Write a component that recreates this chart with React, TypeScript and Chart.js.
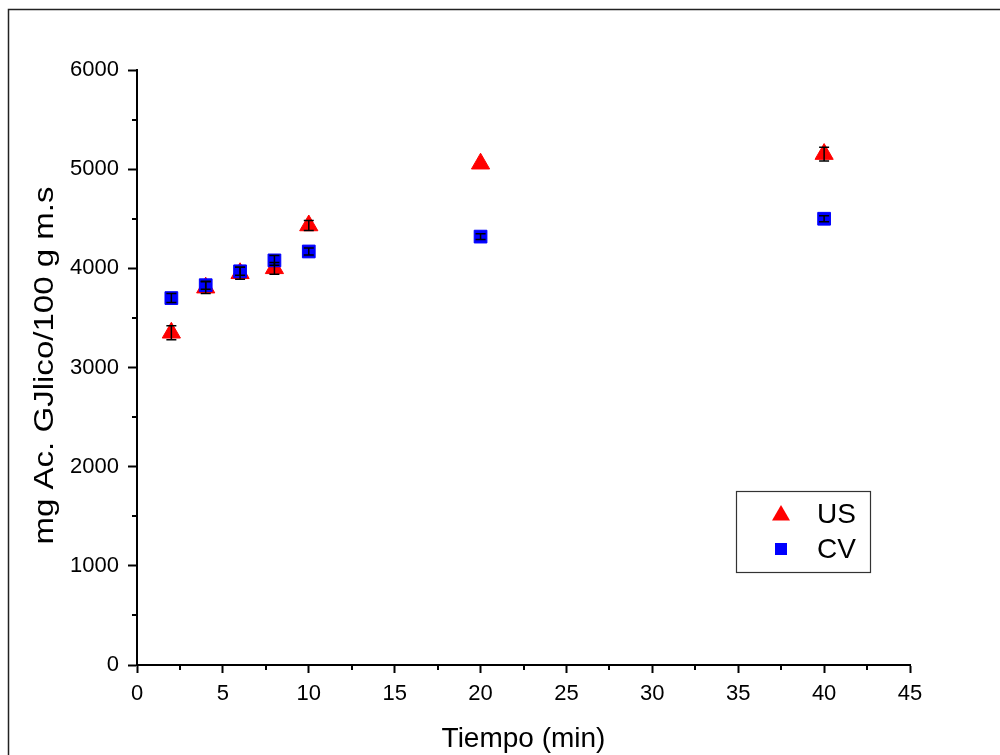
import React, { useEffect, useRef } from "react";
import { Chart, registerables } from "chart.js";

Chart.register(...registerables);

const xValues = [2, 4, 6, 8, 10, 20, 40];
const usValues = [3350, 3805, 3950, 4000, 4432, 5055, 5152];
const cvValues = [3700, 3830, 3970, 4080, 4170, 4320, 4500];
const usErrors = [70, 60, 60, 60, 50, 0, 70];
const cvErrors = [45, 40, 40, 50, 35, 30, 30];
const seriesNames = ["US", "CV"];
const xTitle = "Tiempo (min)";
const yTitle = "mg Ac. GJlico/100 g m.s";

const FONT = "'Liberation Sans', Arial, Helvetica, sans-serif";

const errorBarPlugin = {
  id: "errorBars",
  afterDatasetsDraw(chart: any) {
    const ctx = chart.ctx;
    const xs = chart.scales.x;
    const ys = chart.scales.y;
    const sets = [
      { vals: usValues, errs: usErrors },
      { vals: cvValues, errs: cvErrors },
    ];
    ctx.save();
    ctx.strokeStyle = "#000";
    ctx.lineWidth = 1.5;
    sets.forEach((s) => {
      xValues.forEach((xv, i) => {
        const e = s.errs[i];
        if (!e) return;
        const px = xs.getPixelForValue(xv);
        const top = ys.getPixelForValue(s.vals[i] + e);
        const bot = ys.getPixelForValue(s.vals[i] - e);
        ctx.beginPath();
        ctx.moveTo(px, top);
        ctx.lineTo(px, bot);
        ctx.moveTo(px - 5, top);
        ctx.lineTo(px + 5, top);
        ctx.moveTo(px - 5, bot);
        ctx.lineTo(px + 5, bot);
        ctx.stroke();
      });
    });
    ctx.restore();
  },
};

const decorPlugin = {
  id: "decor",
  afterDraw(chart: any) {
    const ctx = chart.ctx;
    const xs = chart.scales.x;
    const ys = chart.scales.y;
    ctx.save();
    // minor ticks
    ctx.strokeStyle = "#000";
    ctx.lineWidth = 2;
    ctx.beginPath();
    for (let v = 2.5; v < 45; v += 5) {
      const px = Math.round(xs.getPixelForValue(v));
      ctx.moveTo(px, ys.bottom);
      ctx.lineTo(px, ys.bottom + 5);
    }
    for (let v = 500; v < 6000; v += 1000) {
      const py = Math.round(ys.getPixelForValue(v));
      ctx.moveTo(xs.left, py);
      ctx.lineTo(xs.left - 5, py);
    }
    ctx.stroke();
    // y axis title (stretched along its length like the reference)
    ctx.save();
    ctx.translate(45, (ys.top + ys.bottom) / 2 - 2);
    ctx.rotate(-Math.PI / 2);
    ctx.scale(1.18, 1);
    ctx.fillStyle = "#000";
    ctx.font = `28px ${FONT}`;
    ctx.textAlign = "center";
    ctx.textBaseline = "middle";
    ctx.fillText(yTitle, 0, 0);
    ctx.restore();
    // outer frame
    ctx.strokeStyle = "#222";
    ctx.lineWidth = 1.5;
    ctx.beginPath();
    ctx.moveTo(8.5, 755);
    ctx.lineTo(8.5, 9.5);
    ctx.lineTo(1000, 9.5);
    ctx.stroke();
    // legend box
    const bx = 736.5, by = 491.5, bw = 134, bh = 81;
    ctx.fillStyle = "#fff";
    ctx.fillRect(bx, by, bw, bh);
    ctx.strokeStyle = "#333";
    ctx.lineWidth = 1.2;
    ctx.strokeRect(bx, by, bw, bh);
    const ds = chart.data.datasets;
    const cx = 781;
    ctx.fillStyle = ds[1].backgroundColor;
    ctx.beginPath();
    ctx.moveTo(cx, 514 - 9);
    ctx.lineTo(cx + 9, 514 + 6.5);
    ctx.lineTo(cx - 9, 514 + 6.5);
    ctx.closePath();
    ctx.fill();
    ctx.fillStyle = ds[0].backgroundColor;
    ctx.fillRect(cx - 6, 549 - 6, 12, 12);
    ctx.fillStyle = "#000";
    ctx.font = `28px ${FONT}`;
    ctx.textBaseline = "middle";
    ctx.textAlign = "left";
    ctx.fillText(ds[1].label, 817, 515);
    ctx.fillText(ds[0].label, 817, 550);
    ctx.restore();
  },
};

export default function App() {
  const ref = useRef<HTMLCanvasElement | null>(null);
  useEffect(() => {
    if (!ref.current) return;
    const chart = new Chart(ref.current, {
      type: "scatter",
      data: {
        datasets: [
          {
            label: seriesNames[1],
            data: xValues.map((x, i) => ({ x, y: cvValues[i] })),
            pointStyle: "rect",
            pointRadius: 9,
            pointHoverRadius: 9,
            backgroundColor: "#0000ff",
            borderColor: "#0000ff",
            borderWidth: 1,
            order: 0,
          },
          {
            label: seriesNames[0],
            data: xValues.map((x, i) => ({ x, y: usValues[i] })),
            pointStyle: "triangle",
            pointRadius: 10.5,
            pointHoverRadius: 10.5,
            backgroundColor: "#ff0000",
            borderColor: "#ff0000",
            borderWidth: 1,
            order: 1,
          },
        ],
      },
      options: {
        animation: false,
        responsive: false,
        layout: { padding: { left: 29, top: 70, right: 90, bottom: 0 } },
        plugins: { legend: { display: false }, tooltip: { enabled: false } },
        scales: {
          x: {
            type: "linear",
            min: 0,
            max: 45,
            afterFit: (s: any) => { s.height = 90; },
            border: { color: "#000", width: 2 },
            grid: { drawOnChartArea: false, tickLength: 8, tickColor: "#000", tickWidth: 2 },
            ticks: { stepSize: 5, color: "#000", padding: 8, maxRotation: 0, callback: (v: any) => String(v), font: { family: FONT, size: 22 } },
            title: { display: true, text: xTitle, color: "#000", padding: { top: 0, bottom: -1 }, font: { family: FONT, size: 28 } },
          },
          y: {
            type: "linear",
            min: 0,
            max: 6000,
            afterFit: (s: any) => { s.width = 108; },
            border: { color: "#000", width: 2 },
            grid: { drawOnChartArea: false, tickLength: 9, tickColor: "#000", tickWidth: 2 },
            ticks: { stepSize: 1000, color: "#000", padding: 9, callback: (v: any) => String(v), font: { family: FONT, size: 22 } },
            title: { display: false, text: yTitle },
          },
        },
      },
      plugins: [errorBarPlugin, decorPlugin],
    });
    return () => chart.destroy();
  }, []);
  return (
    <div style={{ position: "fixed", left: 0, top: 0, width: 1000, height: 755, background: "#fff" }}>
      <canvas ref={ref} width={1000} height={755} style={{ display: "block" }} />
    </div>
  );
}
